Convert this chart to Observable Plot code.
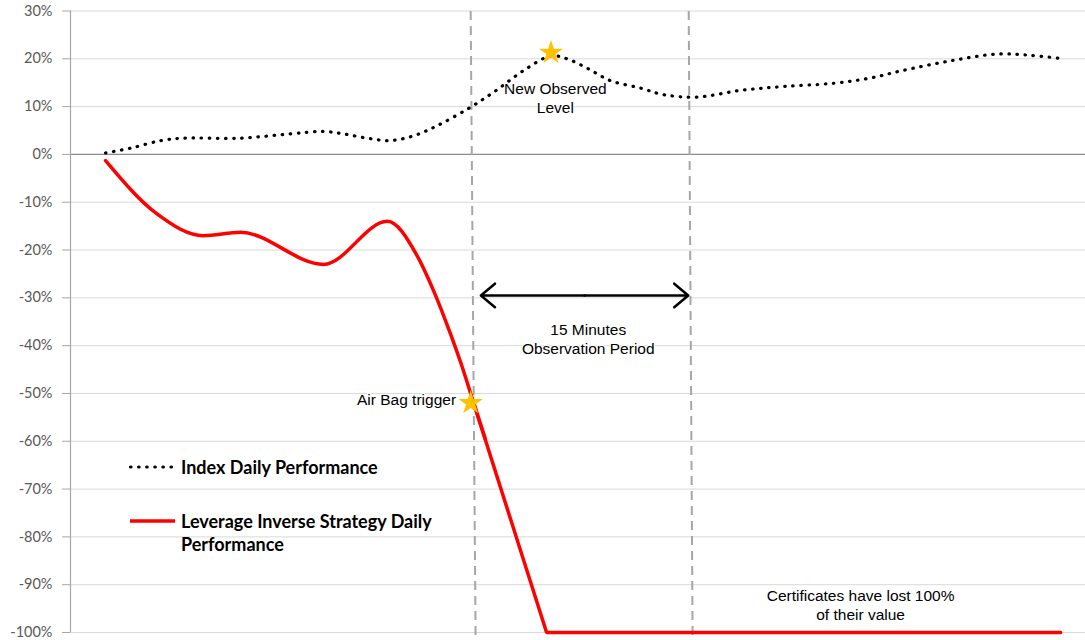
<!DOCTYPE html>
<html>
<head>
<meta charset="utf-8">
<script src="https://cdn.jsdelivr.net/npm/d3@7"></script>
<script src="https://cdn.jsdelivr.net/npm/@observablehq/plot@0.6"></script>
<style>
  html, body { margin: 0; padding: 0; background: #fff; }
  #wrap { position: relative; width: 1085px; height: 640px; }
  .lg { position: absolute; font-family: Lato, "Open Sans", sans-serif; font-weight: bold; font-size: 18px; color: #000; white-space: nowrap; }
</style>
</head>
<body>
<div id="wrap"></div>
<script>
// ---- data (time in minutes, values in %) ----
const yTicks = [30, 20, 10, 0, -10, -20, -30, -40, -50, -60, -70, -80, -90, -100];
const xDomain = [2.6, 72.1];

const indexTime  = [5.0, 6.7, 8.8, 10.3, 14.2, 17.7, 19.9, 21.3, 22.9, 24.5, 26.1, 27.7, 30.0, 31.8, 33.6, 35.5, 36.6, 38.0, 39.6, 41.6, 43.2, 45.5, 48.5, 51.4, 54.9, 57.4, 59.5, 62.9, 66.1, 68.4, 70.3];
const indexValue = [0.3, 1.3, 2.9, 3.4, 3.4, 4.3, 4.8, 4.3, 3.4, 2.9, 3.9, 6.0, 9.9, 13.5, 17.5, 20.6, 20.0, 18.0, 15.4, 13.9, 12.5, 12.0, 13.4, 14.2, 14.9, 16.0, 17.5, 19.6, 21.0, 20.7, 20.1];

const strategyTime  = [5.0, 8.5, 11.7, 14.25, 19.93, 24.3, 26.3, 27.5, 28.6, 29.5, 30.1, 31.0];
const strategyValue = [-1.3, -12.4, -17.0, -16.3, -23.0, -14.0, -21.0, -28.8, -37.4, -45.2, -51.0, -59.5];
// knock-out part (straight segments)
const crashTime  = [30.1, 35.2, 70.4];
const crashValue = [-51.0, -100, -100];

// vertical dashed markers: trigger and end of observation period
const markerTop    = [30.0, 44.93];
const markerBottom = [30.34, 45.2];
const markerY      = [30, -101.8];

// stars
const starTime  = [30.0, 35.5];
const starValue = [-52.0, 21.3];

// observation arrow
const arrowFrom = 30.7, arrowTo = 44.9, arrowY = -29.5;

// annotations
const notesCentered = [
  {t: 35.8, v: 12.0, text: "New Observed\nLevel"},
  {t: 38.05, v: -38.5, text: "15 Minutes\nObservation Period"},
  {t: 56.7, v: -94.1, text: "Certificates have lost 100%\nof their value"}
];
const notesRight = [
  {t: 29.0, v: -51.2, text: "Air Bag trigger"}
];

// ---- build tables ----
const indexRows = indexTime.map((t, i) => ({t, v: indexValue[i]}));
const stratRows = strategyTime.map((t, i) => ({t, v: strategyValue[i]}));
const crashRows = crashTime.map((t, i) => ({t, v: crashValue[i]}));
const markerRows = markerTop.map((t, i) => ({x1: t, x2: markerBottom[i], y1: markerY[0], y2: markerY[1]}));
const starRows = starTime.map((t, i) => ({t, v: starValue[i]}));
const mid = (arrowFrom + arrowTo) / 2;
const arrowRows = [{x1: mid, x2: arrowFrom}, {x1: mid, x2: arrowTo}];

const textStyle = {fontFamily: "Liberation Sans, Arial, sans-serif", fontSize: 15.5, fill: "#000",
  stroke: "#fff", strokeWidth: 2, lineHeight: 1.22};

const chart = Plot.plot({
  width: 1085,
  height: 640,
  marginLeft: 70,
  marginRight: 0,
  marginTop: 10.5,
  marginBottom: 8,
  style: {fontFamily: "Lato, sans-serif", background: "#fff", overflow: "visible"},
  x: {domain: xDomain, axis: null},
  y: {domain: [-100, 30], axis: null},
  marks: [
    Plot.ruleY(yTicks.filter(d => d !== 0), {stroke: "#d9d9d9", strokeWidth: 1}),
    Plot.ruleY([0], {stroke: "#8c8c8c", strokeWidth: 1.2}),
    Plot.ruleX([xDomain[0]], {stroke: "#a6a6a6", strokeWidth: 1.2}),
    Plot.axisY({ticks: yTicks, tickFormat: d => d + "%", tickSize: 8, tickPadding: 10,
      stroke: "#a6a6a6", fill: "#595959", fontSize: 14.5, label: null}),
    Plot.link(markerRows, {x1: "x1", x2: "x2", y1: "y1", y2: "y2", stroke: "#a6a6a6",
      strokeWidth: 2, strokeDasharray: "9 6", clip: false}),
    Plot.line(indexRows, {x: "t", y: "v", curve: "catmull-rom", stroke: "#000",
      strokeWidth: 3.2, strokeDasharray: "0.5 7.6", strokeLinecap: "round"}),
    Plot.line(stratRows, {x: "t", y: "v", curve: "monotone-x", stroke: "#ff0000", strokeWidth: 3.5}),
    Plot.line(crashRows, {x: "t", y: "v", stroke: "#ff0000", strokeWidth: 3.5, strokeLinejoin: "miter"}),
    Plot.arrow(arrowRows, {x1: "x1", x2: "x2", y1: arrowY, y2: arrowY, stroke: "#000",
      strokeWidth: 2.5, headLength: 11, headAngle: 80}),
    Plot.text(notesCentered, {x: "t", y: "v", text: "text", textAnchor: "middle", ...textStyle}),
    Plot.text(notesRight, {x: "t", y: "v", text: "text", textAnchor: "end", ...textStyle}),
    Plot.dot(starRows, {x: "t", y: "v", symbol: "star", r: 7.6, fill: "#ffc000", stroke: "none"})
  ]
});

const wrap = document.getElementById("wrap");
wrap.appendChild(chart);

// legend inside the plot area
const legend = document.createElement("div");
legend.innerHTML = `
  <svg style="position:absolute;left:128px;top:462px" width="50" height="10">
    <line x1="2.5" x2="44" y1="5" y2="5" stroke="#000" stroke-width="3.2" stroke-dasharray="0.5 7.6" stroke-linecap="round"/>
  </svg>
  <div class="lg" style="left:181px;top:456px;line-height:22px">Index Daily Performance</div>
  <svg style="position:absolute;left:128px;top:516px" width="50" height="10">
    <line x1="2" x2="47" y1="5" y2="5" stroke="#ff0000" stroke-width="3.5"/>
  </svg>
  <div class="lg" style="left:181px;top:510px;line-height:23px">Leverage Inverse Strategy Daily<br>Performance</div>`;
wrap.appendChild(legend);
</script>
</body>
</html>
